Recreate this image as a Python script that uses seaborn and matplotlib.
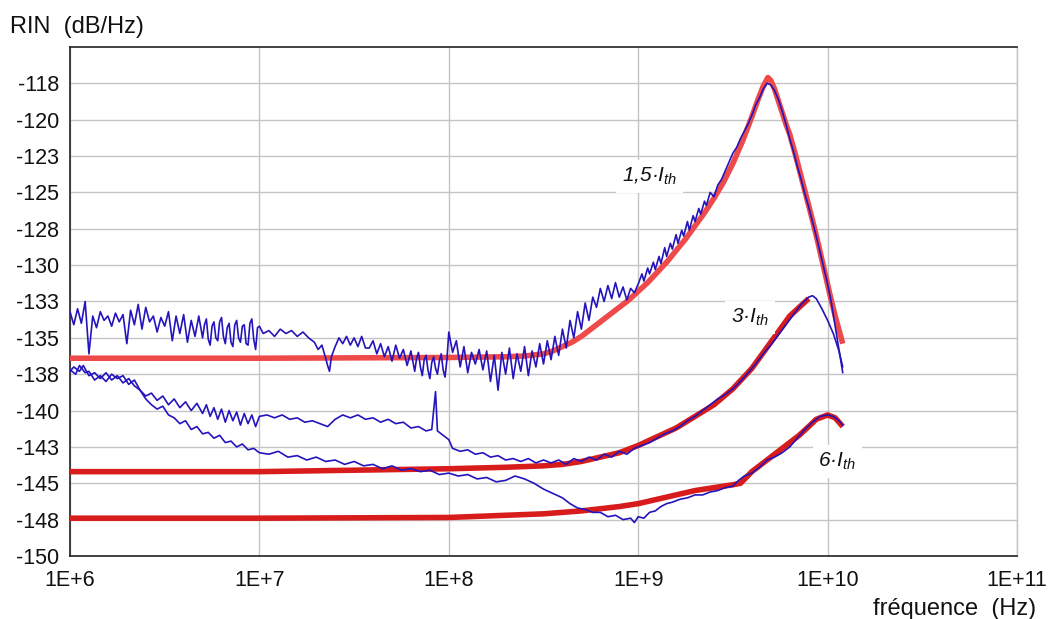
import numpy as np
import pandas as pd
import matplotlib
matplotlib.use("Agg")
import matplotlib.pyplot as plt
import seaborn as sns

# ---------------- data: (log10 frequency [Hz], RIN [dB/Hz]) ----------------
meas_15 = [
    (6.00, -133.2), (6.02, -134.1), (6.04, -133.0), (6.06, -134.0), (6.08, -132.5),
    (6.10, -136.1), (6.12, -133.5), (6.14, -134.3), (6.16, -133.2), (6.18, -133.8),
    (6.20, -133.5), (6.22, -134.2), (6.24, -133.3), (6.26, -133.9), (6.28, -133.4),
    (6.30, -135.4), (6.32, -133.1), (6.34, -134.1), (6.36, -132.7), (6.38, -134.4),
    (6.40, -132.9), (6.42, -133.9), (6.44, -133.5), (6.46, -134.6), (6.48, -133.6),
    (6.50, -134.2), (6.52, -133.2), (6.54, -135.2), (6.56, -133.5), (6.58, -134.7),
    (6.60, -133.4), (6.62, -135.3), (6.64, -133.8), (6.66, -134.9), (6.68, -133.5),
    (6.70, -135.0), (6.71, -134.1), (6.72, -133.7), (6.73, -135.1), (6.74, -135.5),
    (6.75, -134.2), (6.76, -133.9), (6.77, -135.0), (6.78, -135.2), (6.79, -133.9),
    (6.80, -133.6), (6.81, -134.9), (6.82, -135.4), (6.83, -134.3), (6.84, -134.0),
    (6.85, -135.3), (6.86, -135.6), (6.87, -134.1), (6.88, -133.8), (6.89, -135.0),
    (6.90, -135.3), (6.91, -134.2), (6.92, -134.1), (6.93, -135.4), (6.94, -135.5),
    (6.95, -134.0), (6.96, -133.7), (6.97, -135.1), (6.98, -135.8), (6.99, -134.3),
    (7.00, -134.2),
    (7.02, -134.7), (7.05, -134.5), (7.08, -134.9), (7.11, -134.4), (7.14, -134.7),
    (7.17, -134.5), (7.20, -134.9), (7.23, -134.6), (7.26, -135.0), (7.29, -135.3),
    (7.31, -135.8), (7.33, -135.5), (7.35, -136.4), (7.36, -136.9), (7.37, -137.3),
    (7.38, -136.3), (7.40, -135.6), (7.42, -135.0), (7.44, -135.4), (7.46, -134.9),
    (7.48, -135.5), (7.50, -135.0), (7.52, -135.6), (7.54, -134.9), (7.56, -135.7),
    (7.58, -135.7), (7.60, -135.2), (7.62, -136.1), (7.64, -135.4), (7.66, -136.3),
    (7.68, -135.6), (7.70, -136.6), (7.72, -135.5), (7.74, -136.4), (7.76, -135.8),
    (7.78, -136.9), (7.80, -135.9), (7.81, -136.6), (7.82, -137.3), (7.83, -136.4),
    (7.84, -136.0), (7.85, -137.0), (7.86, -137.6), (7.87, -136.5), (7.88, -136.2),
    (7.89, -137.2), (7.90, -137.8), (7.91, -136.7), (7.92, -136.3), (7.93, -137.1),
    (7.94, -137.5), (7.95, -136.6), (7.96, -136.1), (7.97, -137.2), (7.98, -137.7),
    (7.99, -136.5), (8.00, -134.6),
    (8.02, -136.0), (8.04, -135.2), (8.06, -137.0), (8.08, -135.6), (8.10, -137.4),
    (8.12, -136.0), (8.14, -136.8), (8.16, -135.8), (8.18, -137.2), (8.20, -135.9),
    (8.22, -138.0), (8.24, -136.2), (8.26, -138.6), (8.28, -136.0), (8.30, -137.5),
    (8.32, -135.7), (8.34, -137.8), (8.36, -136.1), (8.38, -137.3), (8.40, -135.6),
    (8.42, -137.6), (8.44, -135.9), (8.46, -137.0), (8.48, -135.4), (8.50, -136.8),
    (8.52, -135.2), (8.54, -136.5), (8.56, -134.9), (8.58, -136.2), (8.60, -134.4),
    (8.62, -135.7), (8.64, -133.8), (8.66, -135.0), (8.68, -133.2), (8.70, -134.4),
    (8.72, -132.6), (8.74, -133.8), (8.76, -132.2), (8.78, -132.9), (8.80, -131.6),
    (8.82, -132.5), (8.84, -131.4), (8.86, -132.3), (8.88, -131.2), (8.90, -132.2),
    (8.92, -131.5), (8.94, -132.4), (8.96, -131.6), (8.98, -131.9), (9.00, -131.3),
    (9.02, -130.6), (9.03, -131.1), (9.05, -130.2), (9.06, -130.6), (9.08, -129.8),
    (9.09, -130.3), (9.11, -129.4), (9.12, -129.9), (9.14, -128.8), (9.15, -129.4),
    (9.17, -128.5), (9.18, -128.9), (9.20, -127.9), (9.21, -128.5), (9.23, -127.6),
    (9.24, -128.0), (9.26, -127.0), (9.27, -127.6), (9.29, -126.6), (9.30, -127.0),
    (9.32, -126.1), (9.33, -126.5), (9.35, -125.6), (9.36, -125.9), (9.38, -125.0),
    (9.40, -125.3), (9.42, -124.5), (9.44, -124.1), (9.46, -123.5), (9.48, -122.9),
    (9.50, -122.3), (9.52, -121.9), (9.54, -121.3), (9.56, -120.8), (9.58, -120.3),
    (9.60, -119.7), (9.62, -119.0), (9.64, -118.5), (9.66, -117.9), (9.68, -117.5),
    (9.70, -117.6), (9.72, -118.0), (9.74, -118.6), (9.76, -119.4), (9.78, -120.3),
    (9.80, -121.3), (9.82, -122.2), (9.84, -123.2), (9.86, -124.1), (9.88, -125.1),
    (9.90, -126.0), (9.92, -127.0), (9.94, -128.0), (9.96, -129.1), (9.98, -130.2),
    (10.00, -131.3), (10.02, -132.6), (10.04, -134.2), (10.06, -135.8), (10.08, -137.4),
]

fit_15 = [
    (6.00, -136.4), (7.00, -136.4), (8.00, -136.35), (8.30, -136.3), (8.40, -136.25),
    (8.50, -136.1), (8.55, -135.9), (8.60, -135.6), (8.65, -135.3), (8.70, -134.9),
    (8.75, -134.4), (8.80, -133.9), (8.85, -133.4), (8.90, -132.9), (8.95, -132.4),
    (9.00, -131.8), (9.05, -131.2), (9.10, -130.5), (9.15, -129.8), (9.20, -129.0),
    (9.25, -128.2), (9.30, -127.3), (9.35, -126.4), (9.40, -125.4), (9.45, -124.3),
    (9.50, -123.0), (9.55, -121.5), (9.60, -119.8), (9.63, -118.7), (9.66, -117.7),
    (9.685, -117.1), (9.70, -117.3), (9.72, -117.9), (9.74, -118.7), (9.76, -119.5),
    (9.78, -120.3), (9.80, -121.0), (9.83, -122.4), (9.86, -123.9), (9.89, -125.4),
    (9.92, -126.9), (9.95, -128.5), (9.98, -130.2), (10.01, -131.9), (10.04, -133.5),
    (10.08, -135.4),
]

meas_3 = [
    (6.00, -137.2), (6.03, -137.5), (6.05, -136.9), (6.08, -137.4), (6.10, -137.3),
    (6.13, -137.9), (6.16, -137.6), (6.19, -138.0), (6.22, -137.5), (6.25, -137.8),
    (6.28, -137.6), (6.31, -138.2), (6.34, -137.9), (6.37, -138.6), (6.40, -139.0),
    (6.43, -138.8), (6.46, -139.3), (6.49, -139.0), (6.52, -139.6), (6.55, -139.2),
    (6.58, -139.8), (6.61, -139.4), (6.64, -140.0), (6.67, -139.5), (6.70, -140.2),
    (6.72, -139.6), (6.74, -140.4), (6.76, -139.8), (6.78, -140.6), (6.80, -139.9),
    (6.82, -140.8), (6.84, -140.0), (6.86, -140.7), (6.88, -140.1), (6.90, -141.0),
    (6.92, -140.2), (6.94, -140.9), (6.96, -140.3), (6.98, -141.1), (7.00, -140.4),
    (7.04, -140.3), (7.08, -140.5), (7.12, -140.3), (7.16, -140.6), (7.20, -140.5),
    (7.24, -140.8), (7.28, -140.7), (7.32, -140.9), (7.36, -141.1), (7.40, -140.6),
    (7.44, -140.3), (7.48, -140.5), (7.52, -140.3), (7.56, -140.6), (7.60, -140.5),
    (7.64, -140.8), (7.68, -140.6), (7.72, -140.9), (7.76, -140.8), (7.80, -141.2),
    (7.84, -141.1), (7.88, -141.4), (7.91, -141.3), (7.93, -138.7), (7.94, -141.4),
    (7.97, -141.7), (8.00, -142.0), (8.02, -142.6), (8.06, -142.8), (8.10, -142.7),
    (8.14, -143.0), (8.18, -142.9), (8.22, -143.2), (8.26, -143.1), (8.30, -143.4),
    (8.34, -143.3), (8.38, -143.5), (8.42, -143.3), (8.46, -143.6), (8.50, -143.4),
    (8.54, -143.6), (8.58, -143.4), (8.62, -143.7), (8.66, -143.3), (8.70, -143.5),
    (8.74, -143.2), (8.78, -143.4), (8.82, -143.0), (8.86, -143.2), (8.90, -142.8),
    (8.94, -143.0), (8.98, -142.6), (9.02, -142.4), (9.06, -142.2), (9.10, -141.9),
    (9.14, -141.6), (9.18, -141.4), (9.22, -141.1), (9.26, -140.7), (9.30, -140.4),
    (9.34, -140.0), (9.38, -139.6), (9.42, -139.2), (9.46, -138.9), (9.50, -138.5),
    (9.54, -138.0), (9.58, -137.4), (9.62, -136.8), (9.66, -136.1), (9.70, -135.5),
    (9.74, -134.8), (9.78, -134.1), (9.82, -133.4), (9.86, -132.7), (9.90, -132.2),
    (9.92, -132.1), (9.94, -132.3), (9.97, -133.0), (10.00, -133.8), (10.03, -134.7),
    (10.06, -135.9), (10.08, -137.0),
]

fit_3 = [
    (6.00, -144.2), (7.00, -144.2), (7.50, -144.1), (8.00, -144.0), (8.30, -143.9),
    (8.50, -143.8), (8.60, -143.7), (8.70, -143.5), (8.80, -143.2), (8.90, -142.9),
    (9.00, -142.4), (9.10, -141.8), (9.20, -141.2), (9.30, -140.4), (9.40, -139.6),
    (9.50, -138.5), (9.60, -137.1), (9.70, -135.3), (9.80, -133.5), (9.90, -132.3),
]

meas_6 = [
    (6.00, -137.3), (6.02, -137.0), (6.05, -137.3), (6.07, -136.9), (6.10, -137.6),
    (6.13, -137.4), (6.16, -137.8), (6.19, -137.4), (6.22, -137.9), (6.25, -137.6),
    (6.28, -138.1), (6.31, -137.8), (6.34, -138.3), (6.37, -138.6), (6.40, -139.2),
    (6.43, -139.6), (6.46, -139.9), (6.49, -139.7), (6.52, -140.3), (6.55, -140.5),
    (6.58, -140.9), (6.61, -140.7), (6.64, -141.3), (6.67, -141.1), (6.70, -141.6),
    (6.73, -141.5), (6.76, -141.9), (6.79, -141.7), (6.82, -142.2), (6.85, -142.1),
    (6.88, -142.5), (6.91, -142.3), (6.94, -142.7), (6.97, -142.6), (7.00, -142.9),
    (7.05, -143.0), (7.10, -142.8), (7.15, -143.2), (7.20, -143.1), (7.25, -143.4),
    (7.30, -143.2), (7.35, -143.5), (7.40, -143.4), (7.45, -143.7), (7.50, -143.5),
    (7.55, -143.8), (7.60, -143.7), (7.65, -144.0), (7.70, -143.8), (7.75, -144.1),
    (7.80, -144.0), (7.85, -144.2), (7.90, -144.1), (7.95, -144.4), (8.00, -144.3),
    (8.05, -144.5), (8.10, -144.4), (8.15, -144.7), (8.20, -144.6), (8.25, -144.9),
    (8.30, -144.8), (8.35, -144.5), (8.40, -144.7), (8.45, -145.0), (8.50, -145.4),
    (8.55, -145.7), (8.60, -146.0), (8.64, -146.4), (8.68, -146.7), (8.72, -146.8),
    (8.76, -147.0), (8.80, -147.0), (8.84, -147.3), (8.88, -147.2), (8.92, -147.5),
    (8.96, -147.4), (8.98, -147.7), (9.00, -147.3), (9.03, -147.4), (9.06, -147.0),
    (9.09, -146.9), (9.12, -146.6), (9.15, -146.4), (9.18, -146.3), (9.22, -146.1),
    (9.26, -146.0), (9.30, -145.8), (9.34, -145.8), (9.38, -145.6), (9.42, -145.5),
    (9.46, -145.3), (9.50, -145.2), (9.53, -144.8), (9.56, -144.5), (9.60, -144.3),
    (9.64, -143.9), (9.68, -143.4), (9.72, -143.2), (9.76, -142.9), (9.80, -142.5),
    (9.84, -141.9), (9.88, -141.3), (9.92, -140.8), (9.96, -140.4), (10.00, -140.3),
    (10.03, -140.4), (10.06, -140.7), (10.08, -141.0),
]

fit_6 = [
    (6.00, -147.4), (7.00, -147.4), (8.00, -147.35), (8.30, -147.2), (8.50, -147.1),
    (8.70, -146.9), (8.90, -146.6), (9.00, -146.4), (9.10, -146.1), (9.20, -145.8),
    (9.30, -145.5), (9.40, -145.3), (9.50, -145.1), (9.54, -145.0), (9.60, -144.2),
    (9.70, -143.2), (9.80, -142.2), (9.85, -141.7), (9.90, -141.1), (9.94, -140.6),
    (10.00, -140.3), (10.04, -140.5), (10.08, -141.1),
]

curve_labels = ["1,5·", "3·", "6·"]
label_pos = [(9.06, -123.9), (9.59, -133.6), (10.05, -143.5)]

x_tick_exp = [6, 7, 8, 9, 10, 11]
x_tick_labels = ["1E+6", "1E+7", "1E+8", "1E+9", "1E+10", "1E+11"]
y_ticks = [-150, -147.5, -145, -142.5, -140, -137.5, -135, -132.5, -130,
           -127.5, -125, -122.5, -120, -117.5]
y_tick_labels = ["-150", "-148", "-145", "-143", "-140", "-138", "-135", "-133",
                 "-130", "-128", "-125", "-123", "-120", "-118"]

# ---------------- styling ----------------
sns.set_theme(style="white")
plt.rcParams["font.family"] = ["Liberation Sans", "DejaVu Sans"]
plt.rcParams["mathtext.fontset"] = "custom"
plt.rcParams["mathtext.rm"] = "Liberation Sans"
plt.rcParams["mathtext.it"] = "Liberation Sans:italic"

BLUE = "#2414bc"
RED_15 = "#ee4a4a"
RED_DARK = "#d81c1c"


def to_df(pairs):
    arr = np.array(pairs, dtype=float)
    return pd.DataFrame({"freq": 10.0 ** arr[:, 0], "rin": arr[:, 1]})


fig = plt.figure(figsize=(10.5, 6.19), dpi=100)
ax = fig.add_axes([70 / 1050, 1 - 556 / 619, (1017 - 70) / 1050, (556 - 47) / 619])

# fits (thick red)
for pairs, col in [(fit_15, RED_15), (fit_3, RED_DARK), (fit_6, RED_DARK)]:
    sns.lineplot(data=to_df(pairs), x="freq", y="rin", ax=ax, color=col,
                 linewidth=4.0, sort=False, estimator=None, zorder=3,
                 solid_capstyle="butt")
# measurements (thin blue)
for pairs in [meas_15, meas_3, meas_6]:
    sns.lineplot(data=to_df(pairs), x="freq", y="rin", ax=ax, color=BLUE,
                 linewidth=1.2, sort=False, estimator=None, zorder=4)

ax.set_xscale("log")
ax.set_xlim(1e6, 1e11)
ax.set_ylim(-150, -115)
ax.set_xticks([10.0 ** e for e in x_tick_exp])
ax.set_xticklabels(x_tick_labels)
ax.xaxis.set_minor_locator(matplotlib.ticker.NullLocator())
ax.set_yticks(y_ticks)
ax.set_yticklabels(y_tick_labels)
ax.set_xlabel("")
ax.set_ylabel("")

ax.grid(True, which="major", color="#c4c4c4", linewidth=1.0, zorder=0)
ax.set_axisbelow(True)
for side in ["left", "bottom", "top"]:
    ax.spines[side].set_color("#222222")
    ax.spines[side].set_linewidth(1.2)
ax.spines["right"].set_color("#c4c4c4")
ax.spines["right"].set_linewidth(1.0)

ax.tick_params(axis="both", which="major", direction="out", color="#222222",
               labelsize=15.5, labelcolor="#111111")
ax.tick_params(axis="y", length=6, width=1.1, pad=2)
ax.tick_params(axis="x", length=7, width=1.1, pad=3)

for lab, (lx, ly) in zip(curve_labels, label_pos):
    ax.text(10.0 ** lx, ly, lab + r"$I_{th}$", ha="center", va="center",
            fontsize=15, style="italic", color="#111111", zorder=6,
            bbox=dict(facecolor="white", edgecolor="none", pad=4))

fig.text(10 / 1050, 1 - 32.5 / 619, "RIN  (dB/Hz)", ha="left", va="baseline",
         fontsize=17, color="#111111")
fig.text(1036 / 1050, 1 - 615 / 619, "fréquence  (Hz)", ha="right", va="baseline",
         fontsize=17, color="#111111")

fig.savefig("out.png", dpi=100, facecolor="white")
